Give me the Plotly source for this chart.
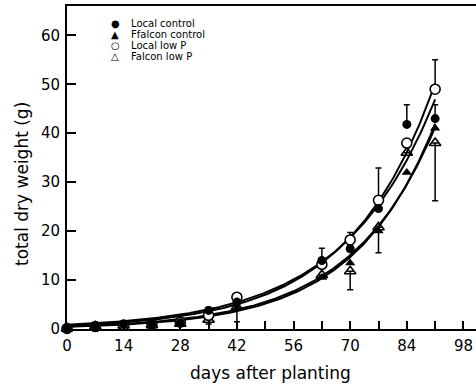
import numpy as np
import plotly.graph_objects as go

# Sampling days (days after planting)
days = [0, 7, 14, 21, 28, 35, 42, 63, 70, 77, 84, 91]

# Total dry weight (g) per treatment
local_control = [0.1, 0.6, 0.9, 1.0, 1.3, 3.8, 5.5, 14.0, 16.4, 24.6, 41.8, 43.0]
falcon_control = [0.1, 0.8, 0.8, 0.9, 1.2, 3.2, 4.2, 10.5, 13.5, 20.0, 32.0, 41.0]
local_low_p = [0.1, 0.5, 0.8, 1.0, 1.4, 2.8, 6.5, 13.2, 18.2, 26.3, 38.0, 49.0]
falcon_low_p = [0.1, 0.5, 0.7, 0.8, 1.1, 1.9, 4.5, 11.0, 11.8, 20.8, 36.0, 38.0]

# One-sided error bars (upper for the top series, lower for the bottom series)
local_control_err_up = [0, 0, 0, 0, 0, 0.6, 0, 2.5, 0, 0, 4.0, 2.8]
local_low_p_err_up = [0, 0, 0, 0, 0, 0, 0.6, 0, 1.5, 6.6, 0, 6.0]
falcon_low_p_err_down = [0, 0, 0, 0, 0, 0.9, 0, 0, 3.8, 5.2, 0, 11.8]
falcon_control_err_down = [0, 0.3, 0, 0, 0, 0, 2.7, 0, 0, 0, 0, 0]

x_ticks = list(range(0, 99, 7))
x_ticktext = [str(v) if v % 14 == 0 else "" for v in x_ticks]
y_ticks = [0, 10, 20, 30, 40, 50, 60]

FONT = "DejaVu Sans"


def fit_exp(t, y):
    """Least-squares fit of y = a * exp(b * t)."""
    t = np.asarray(t, float)
    y = np.asarray(y, float)
    best = None
    for b in np.linspace(0.02, 0.08, 3001):
        e = np.exp(b * t)
        a = (y @ e) / (e @ e)
        sse = ((y - a * e) ** 2).sum()
        if best is None or sse < best[0]:
            best = (sse, a, b)
    return best[1], best[2]


fig = go.Figure()

# fitted growth curves
t_curve = np.linspace(0, 91, 300)
for series in (local_low_p, local_control, falcon_control, falcon_low_p):
    a, b = fit_exp(days, series)
    fig.add_trace(go.Scatter(
        x=t_curve, y=a * np.exp(b * t_curve), mode="lines",
        line=dict(color="black", width=2), hoverinfo="skip", showlegend=False,
    ))

err_style = dict(color="black", thickness=1.5, width=3)

fig.add_trace(go.Scatter(
    x=days, y=falcon_low_p, mode="markers", name="Falcon low P",
    marker=dict(symbol="triangle-up-open", size=10, color="black", line=dict(width=1.6)),
    error_y=dict(type="data", symmetric=False, array=[0] * len(days),
                 arrayminus=falcon_low_p_err_down, **err_style),
    cliponaxis=False, showlegend=False,
))
fig.add_trace(go.Scatter(
    x=days, y=falcon_control, mode="markers", name="Ffalcon control",
    marker=dict(symbol="triangle-up", size=9, color="black"),
    error_y=dict(type="data", symmetric=False, array=[0] * len(days),
                 arrayminus=falcon_control_err_down, **err_style),
    cliponaxis=False, showlegend=False,
))
fig.add_trace(go.Scatter(
    x=days, y=local_low_p, mode="markers", name="Local low P",
    marker=dict(symbol="circle", size=10, color="white", line=dict(width=1.6, color="black")),
    error_y=dict(type="data", symmetric=False, array=local_low_p_err_up,
                 arrayminus=[0] * len(days), **err_style),
    cliponaxis=False, showlegend=False,
))
fig.add_trace(go.Scatter(
    x=days, y=local_control, mode="markers", name="Local control",
    marker=dict(symbol="circle", size=9, color="black"),
    error_y=dict(type="data", symmetric=False, array=local_control_err_up,
                 arrayminus=[0] * len(days), **err_style),
    cliponaxis=False, showlegend=False,
))

# key in the upper-left corner
W, H, L, T, B = 476, 386, 67, 6, 57
pw, ph = W - L, H - T - B


def px_x(px):
    return (px - L) / pw


def px_y(py):
    return (H - B - py) / ph


legend_rows = [("●", "Local control"), ("▲", "Ffalcon control"),
               ("○", "Local low P"), ("△", "Falcon low P")]
for i, (sym, label) in enumerate(legend_rows):
    yy = px_y(23 + 11.2 * i)
    fig.add_annotation(x=px_x(115), y=yy, xref="paper", yref="paper", text=sym,
                       showarrow=False, xanchor="center", yanchor="middle",
                       font=dict(family=FONT, size=10, color="black"))
    fig.add_annotation(x=px_x(129), y=yy, xref="paper", yref="paper", text=label,
                       showarrow=False, xanchor="left", yanchor="middle",
                       font=dict(family=FONT, size=10, color="black"))

fig.add_annotation(x=px_x(270), y=px_y(373), xref="paper", yref="paper",
                   text="days after planting", showarrow=False,
                   xanchor="center", yanchor="middle",
                   font=dict(family=FONT, size=17, color="black"))
fig.add_annotation(x=px_x(22), y=px_y(184), xref="paper", yref="paper",
                   text="total dry weight (g)", showarrow=False, textangle=-90,
                   xanchor="center", yanchor="middle",
                   font=dict(family=FONT, size=17, color="black"))

fig.update_layout(
    width=W, height=H,
    margin=dict(l=L, r=0, t=T, b=B),
    paper_bgcolor="white", plot_bgcolor="white",
    font=dict(family=FONT, size=15, color="black"),
    xaxis=dict(range=[0, 101.1], tickvals=x_ticks, ticktext=x_ticktext,
               ticks="inside", ticklen=8, tickwidth=1.5, tickcolor="black",
               showline=True, linewidth=2, linecolor="black", mirror=True,
               showgrid=False, zeroline=False, ticklabelstandoff=2),
    yaxis=dict(range=[0, 66], tickvals=y_ticks,
               ticks="inside", ticklen=9, tickwidth=1.5, tickcolor="black",
               showline=True, linewidth=2, linecolor="black",
               showgrid=False, zeroline=False, ticklabelstandoff=2),
)

fig.write_html("out.html")
